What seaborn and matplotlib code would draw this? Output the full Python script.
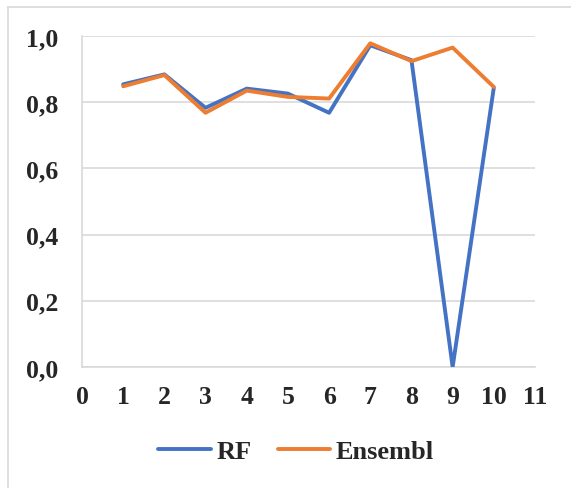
import matplotlib
matplotlib.use("Agg")
import matplotlib.pyplot as plt
import seaborn as sns
import pandas as pd
from matplotlib.ticker import FuncFormatter
from matplotlib.lines import Line2D

x_vals = [1, 2, 3, 4, 5, 6, 7, 8, 9, 10]
rf_vals = [0.854, 0.884, 0.783, 0.841, 0.826, 0.768, 0.972, 0.927, 0.0, 0.844]
ens_vals = [0.848, 0.882, 0.768, 0.835, 0.816, 0.811, 0.978, 0.924, 0.965, 0.846]
series_names = ["RF", "Ensembl"]
x_ticks = list(range(0, 12))
y_ticks = [0.0, 0.2, 0.4, 0.6, 0.8, 1.0]

sns.set_style("white")
plt.rcParams['font.family'] = ['Liberation Serif', 'DejaVu Serif']
plt.rcParams['font.weight'] = 'bold'

df = pd.DataFrame({
    "x": x_vals * 2,
    "y": rf_vals + ens_vals,
    "series": [series_names[0]] * len(x_vals) + [series_names[1]] * len(x_vals),
})

fig = plt.figure(figsize=(5.71, 4.89), dpi=100)
ax = fig.add_axes([82/571, 1-368/489, (535-82)/571, (368-37)/489])

palette = {"RF": "#4472C4", "Ensembl": "#ED7D31"}
sns.lineplot(data=df, x="x", y="y", hue="series", palette=palette, ax=ax,
             linewidth=2.8, legend=False, zorder=3)

ax.set_xlim(0, 11)
ax.set_ylim(0, 1.0)
ax.set_xticks(x_ticks)
ax.set_yticks(y_ticks)
ax.yaxis.set_major_formatter(FuncFormatter(lambda v, p: f"{v:.1f}".replace(".", ",")))
ax.set_xlabel("")
ax.set_ylabel("")
ax.grid(axis="y", color="#D9D9D9", linewidth=1.2, zorder=0)
ax.grid(axis="x", visible=False)
for s in ["top", "right"]:
    ax.spines[s].set_visible(False)
for s in ["left", "bottom"]:
    ax.spines[s].set_color("#D9D9D9")
    ax.spines[s].set_linewidth(1.2)
ax.tick_params(axis="x", length=0, pad=13, labelsize=18.5)
ax.tick_params(axis="y", length=0, pad=17, labelsize=18.5)
for lab in ax.get_xticklabels() + ax.get_yticklabels():
    lab.set_fontweight("bold")

handles = [Line2D([0], [0], color=palette[n], linewidth=2.8) for n in series_names]
fig.legend(handles, series_names, loc="center", bbox_to_anchor=(296/571, 1-452/489),
           ncol=2, frameon=False, prop={"weight": "bold", "size": 19},
           handlelength=2.0, handletextpad=0.2, columnspacing=1.0)

# outer chart border (left and top only visible)
fig.add_artist(Line2D([8/571, 8/571], [0, 1-8/489], transform=fig.transFigure, color="#D9D9D9", linewidth=1.2))
fig.add_artist(Line2D([8/571, 1], [1-8/489, 1-8/489], transform=fig.transFigure, color="#D9D9D9", linewidth=1.2))

fig.savefig("out.png", dpi=100)
